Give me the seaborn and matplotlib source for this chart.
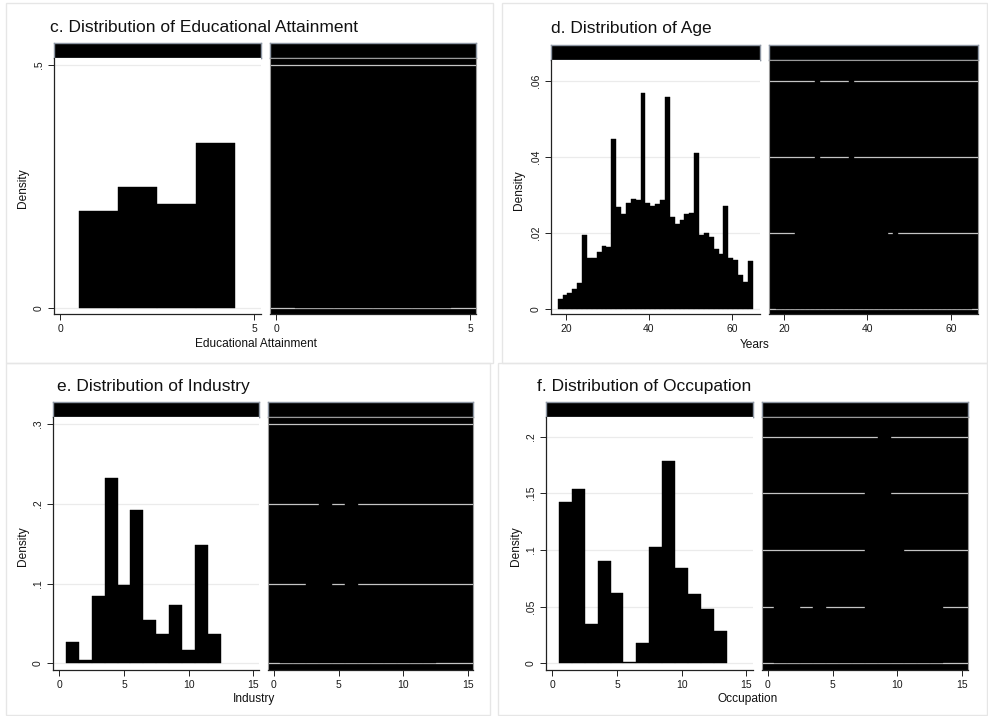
import numpy as np
import pandas as pd
import matplotlib
matplotlib.use("Agg")
import matplotlib.pyplot as plt
from matplotlib.patches import Rectangle
import seaborn as sns

sns.set_style("white")
plt.rcParams['font.family'] = ['Liberation Sans', 'DejaVu Sans']

# ---------------- data ----------------
titles = ["c. Distribution of Educational Attainment", "d. Distribution of Age",
          "e. Distribution of Industry", "f. Distribution of Occupation"]
xlabels = ["Educational Attainment", "Years", "Industry", "Occupation"]

# Educational attainment (categories 1..4)
edu_values = [1, 2, 3, 4]
edu_left = [0.200, 0.249, 0.214, 0.339]
edu_right = [0.15, 0.25, 0.25, 0.35]
edu_xticks = [0, 5]
edu_yticks = [0, 0.5]
edu_yticklabels = ["0", ".5"]

# Age (40 bins from 18 to 65)
age_start, age_end, age_nbins = 18, 65, 40
age_left = [0.0026, 0.0038, 0.0043, 0.0054, 0.0068, 0.0195, 0.0135, 0.0135, 0.0149, 0.0166,
            0.0164, 0.0448, 0.0268, 0.0250, 0.0279, 0.0290, 0.0287, 0.0567, 0.0278, 0.0272,
            0.0275, 0.0287, 0.0557, 0.0242, 0.0223, 0.0235, 0.0249, 0.0252, 0.0410, 0.0196,
            0.0199, 0.0190, 0.0159, 0.0146, 0.0270, 0.0135, 0.0129, 0.0089, 0.0072, 0.0126]
age_right = [0.004, 0.006, 0.008, 0.012, 0.022, 0.025, 0.028, 0.035, 0.065, 0.034,
             0.033, 0.036, 0.038, 0.037, 0.036, 0.063, 0.034, 0.033, 0.032, 0.030,
             0.029, 0.026, 0.024, 0.019, 0.022, 0.018, 0.017, 0.016, 0.015, 0.013,
             0.012, 0.011, 0.010, 0.009, 0.008, 0.007, 0.006, 0.005, 0.004, 0.004]
age_xticks = [20, 40, 60]
age_yticks = [0, 0.02, 0.04, 0.06]
age_yticklabels = ["0", ".02", ".04", ".06"]

# Industry (categories 1..12)
ind_values = list(range(1, 13))
ind_left = [0.0268, 0.0042, 0.0845, 0.2320, 0.0983, 0.1925, 0.0544, 0.0368, 0.0732, 0.0167, 0.1485, 0.0372]
ind_right = [0.03, 0.04, 0.13, 0.22, 0.08, 0.21, 0.05, 0.04, 0.07, 0.02, 0.07, 0.04]
ind_xticks = [0, 5, 10, 15]
ind_yticks = [0, 0.1, 0.2, 0.3]
ind_yticklabels = ["0", ".1", ".2", ".3"]

# Occupation (categories 1..13)
occ_values = list(range(1, 14))
occ_left = [0.1421, 0.1536, 0.0347, 0.0905, 0.0620, 0.0012, 0.0176, 0.1025, 0.1786, 0.0843, 0.0611, 0.0479, 0.0288]
occ_right = [0.060, 0.065, 0.030, 0.055, 0.040, 0.020, 0.035, 0.160, 0.210, 0.110, 0.080, 0.070, 0.060]
occ_xticks = [0, 5, 10, 15]
occ_yticks = [0, 0.05, 0.1, 0.15, 0.2]
occ_yticklabels = ["0", ".05", ".1", ".15", ".2"]

# ---------------- layout (pixels) ----------------
W, H = 988, 716
fig = plt.figure(figsize=(W / 100, H / 100), dpi=100)


def rect(x0, y0, x1, y1):
    return [x0 / W, 1 - y1 / H, (x1 - x0) / W, (y1 - y0) / H]


# quadrant frames
for (x0, y0, x1, y1) in [(6, 3, 493, 363), (502, 3, 987, 363), (6, 363, 490, 715), (498, 363, 987, 715)]:
    fig.patches.append(Rectangle((x0 / W, 1 - y1 / H), (x1 - x0) / W, (y1 - y0) / H,
                                 transform=fig.transFigure, fill=False,
                                 edgecolor="#e6e6e6", linewidth=1.0))

panels = [
    dict(title=titles[0], tpos=(50, 27), xlabel=xlabels[0], xlpos=(256, 344), ylpos=(23, 188),
         strip_y=(43, 58), plot_y=(58, 314), L=(54, 261), R=(270, 476),
         xlimL=(-0.155, 5.18), xlimR=(-0.155, 5.155), ylim=(-0.0123, 0.5144),
         values=edu_values, edges=[0.5, 1.5, 2.5, 3.5, 4.5], left=edu_left, right=edu_right,
         xticks=edu_xticks, yticks=edu_yticks, yticklabels=edu_yticklabels),
    dict(title=titles[1], tpos=(551, 28), xlabel=xlabels[1], xlpos=(755, 345), ylpos=(519, 190),
         strip_y=(45, 60), plot_y=(60, 314), L=(551, 760), R=(769, 978),
         xlimL=(16.39, 66.75), xlimR=(16.41, 66.47), ylim=(-0.0013, 0.0655),
         values=None, edges=list(np.linspace(age_start, age_end, age_nbins + 1)), left=age_left, right=age_right,
         xticks=age_xticks, yticks=age_yticks, yticklabels=age_yticklabels),
    dict(title=titles[2], tpos=(57, 386), xlabel=xlabels[2], xlpos=(254, 699), ylpos=(23, 546),
         strip_y=(402, 417), plot_y=(417, 670), L=(53, 259), R=(268, 473),
         xlimL=(-0.49, 15.44), xlimR=(-0.46, 15.37), ylim=(-0.0084, 0.309),
         values=ind_values, edges=[v - 0.5 for v in ind_values] + [ind_values[-1] + 0.5],
         left=ind_left, right=ind_right,
         xticks=ind_xticks, yticks=ind_yticks, yticklabels=ind_yticklabels),
    dict(title=titles[3], tpos=(537, 386), xlabel=xlabels[3], xlpos=(748, 699), ylpos=(516, 546),
         strip_y=(402, 417), plot_y=(417, 670), L=(546, 753), R=(762, 968),
         xlimL=(-0.49, 15.52), xlimR=(-0.44, 15.44), ylim=(-0.0059, 0.2172),
         values=occ_values, edges=[v - 0.5 for v in occ_values] + [occ_values[-1] + 0.5],
         left=occ_left, right=occ_right,
         xticks=occ_xticks, yticks=occ_yticks, yticklabels=occ_yticklabels),
]

TICK_FS = 7.5
for p in panels:
    edges = [float(e) for e in p["edges"]]
    if p["values"] is None:
        centers = [(a + b) / 2 for a, b in zip(edges[:-1], edges[1:])]
    else:
        centers = [float(v) for v in p["values"]]
    for side in ("L", "R"):
        x0, x1 = p[side]
        # strip
        sax = fig.add_axes(rect(x0, p["strip_y"][0], x1, p["strip_y"][1]))
        sax.set_facecolor("black")
        sax.set_xticks([]); sax.set_yticks([])
        for s in sax.spines.values():
            s.set_color("#8d96a3"); s.set_linewidth(1.0)
        # plot
        ax = fig.add_axes(rect(x0, p["plot_y"][0], x1, p["plot_y"][1]))
        heights = p["left"] if side == "L" else p["right"]
        df = pd.DataFrame({"v": centers, "w": heights})
        sns.histplot(data=df, x="v", weights="w", bins=edges, stat="count", ax=ax,
                     color="black", edgecolor="black", linewidth=0.3, alpha=1.0)
        ax.set_xlim(*(p["xlimL"] if side == "L" else p["xlimR"]))
        ax.set_ylim(*p["ylim"])
        ax.set_xlabel(""); ax.set_ylabel("")
        ax.set_xticks(p["xticks"])
        ax.set_xticklabels([str(t) for t in p["xticks"]])
        ax.set_yticks(p["yticks"])
        ax.set_axisbelow(True)
        ax.tick_params(axis="x", direction="out", length=4.5, width=0.7, color="#222222",
                       labelsize=TICK_FS, pad=3, bottom=True, labelcolor="#1a1a1a")
        ax.spines["bottom"].set_color("#222222")
        ax.spines["bottom"].set_linewidth(0.9)
        if side == "L":
            ax.set_facecolor("white")
            ax.yaxis.grid(True, color="#ebebeb", linewidth=0.9)
            ax.xaxis.grid(False)
            ax.set_yticklabels(p["yticklabels"])
            ax.tick_params(axis="y", direction="out", length=4.5, width=0.7, color="#222222",
                           labelsize=TICK_FS, pad=3, left=True, labelrotation=90,
                           labelcolor="#1a1a1a")
            for lab in ax.get_yticklabels():
                lab.set_va("center")
            ax.spines["left"].set_color("#222222")
            ax.spines["left"].set_linewidth(0.9)
            ax.spines["top"].set_visible(False)
            ax.spines["right"].set_visible(False)
        else:
            ax.set_facecolor("black")
            ax.yaxis.grid(True, color="#c4c4c4", linewidth=0.9)
            ax.xaxis.grid(False)
            ax.tick_params(axis="y", left=False, labelleft=False)
            for sname in ("left", "right", "top"):
                ax.spines[sname].set_color("#9a9a9a")
                ax.spines[sname].set_linewidth(0.8)
    fig.text(p["tpos"][0] / W, 1 - p["tpos"][1] / H, p["title"], fontsize=12.5,
             ha="left", va="center", color="#111111")
    fig.text(p["xlpos"][0] / W, 1 - p["xlpos"][1] / H, p["xlabel"], fontsize=8.6,
             ha="center", va="center", color="#111111")
    fig.text(p["ylpos"][0] / W, 1 - p["ylpos"][1] / H, "Density", fontsize=8.6,
             ha="center", va="center", rotation=90, color="#111111")

fig.savefig("out.png", dpi=100, facecolor="white")
